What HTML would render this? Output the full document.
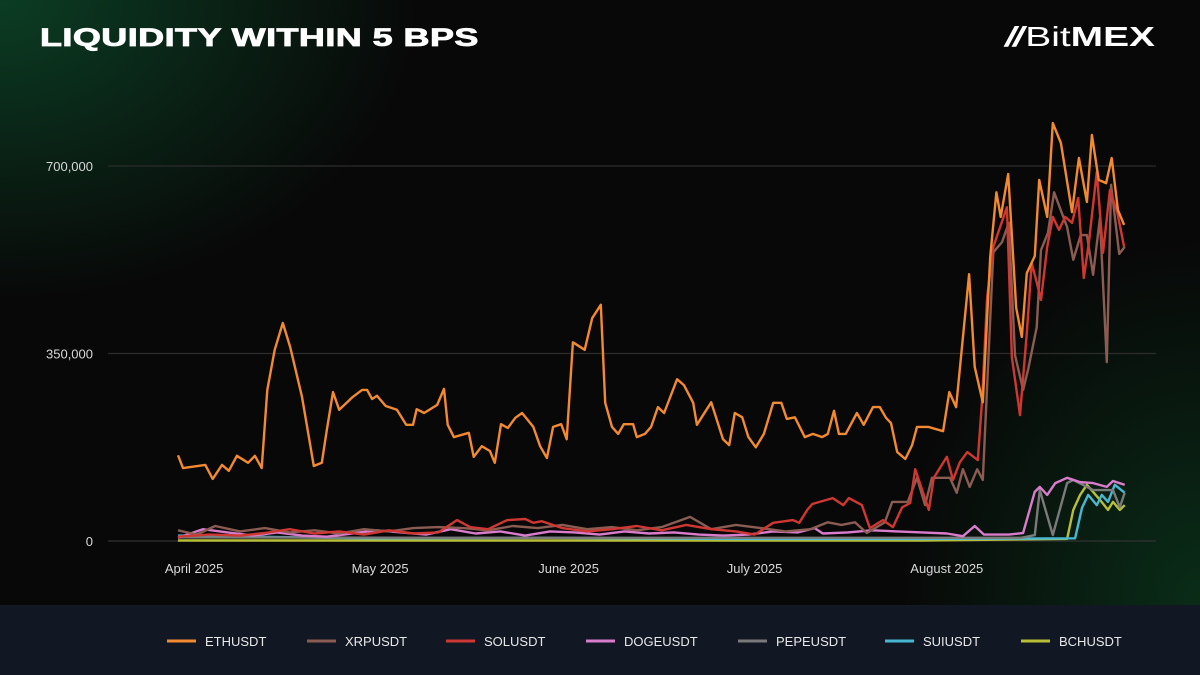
<!DOCTYPE html>
<html><head><meta charset="utf-8">
<style>
html,body{margin:0;padding:0;}
body{width:1200px;height:675px;overflow:hidden;background:#080808;font-family:"Liberation Sans",sans-serif;}
#wrap{position:relative;width:1200px;height:675px;
background:
radial-gradient(ellipse 420px 300px at 0px 0px, rgba(12,70,40,0.85), rgba(8,8,8,0) 100%),
radial-gradient(ellipse 300px 360px at 1200px 600px, rgba(10,60,30,0.7), rgba(8,8,8,0) 100%),
#080808;}
#title{position:absolute;left:40px;top:24px;color:#fff;font-weight:900;font-size:25px;letter-spacing:0.3px;transform:scaleX(1.44);transform-origin:left top;-webkit-text-stroke:0.8px #fff;white-space:nowrap;}
#logo{position:absolute;left:1005px;top:21px;color:#fff;font-size:28px;transform:scaleX(1.39);transform-origin:left top;white-space:nowrap;}
#footer{position:absolute;left:0;top:605px;width:1200px;height:70px;background:#111723;}
</style></head>
<body>
<div id="wrap">
<div id="title">LIQUIDITY WITHIN 5 BPS</div>
<div id="logo"><span style="font-weight:bold;font-style:italic;letter-spacing:-2px">//</span><span style="margin-left:3px">Bit</span><b>MEX</b></div>
<div id="footer"></div>
<svg id="chart" width="1200" height="675" style="position:absolute;left:0;top:0"></svg>
</div>
<script>
const yTicks=[0,350,700];
const yTickLabels=["0","350,000","700,000"];
const xTickDays=[2.6,32.6,63,93,124];
const xTickLabels=["April 2025","May 2025","June 2025","July 2025","August 2025"];
const seriesNames=["ETHUSDT","XRPUSDT","SOLUSDT","DOGEUSDT","PEPEUSDT","SUIUSDT","BCHUSDT"];
const seriesColors=["#f28a30","#8a5c52","#cf3832","#d97ccc","#7a7a7a","#48b8d2","#b8bf36"];
const ethDays=[0,0.8,4.4,5.6,7.1,8.2,9.5,11.3,12.4,13.5,14.4,15.6,16.9,18.1,20,21.9,23.2,24,25,26,28.2,29.7,30.5,31.3,32.1,33.5,35.3,36.8,37.9,38.5,39.7,41.8,42.9,43.5,44.5,46.9,47.7,49,50.3,51.1,52.1,53.2,54.4,55.5,57.3,58.4,59.5,60.5,61.8,62.7,63.7,65.6,66.8,68.2,68.9,70,71,71.9,73.4,74,75.3,76.3,77.4,78.4,80.5,81.6,83.1,83.7,86,87.9,88.9,89.8,91,92,93.2,94.5,96,97.3,98.2,99.5,101.1,102.4,103.9,104.8,105.8,106.6,107.7,109.5,110.6,112.1,113.2,114.2,115,116,117.3,118.4,119.2,121,123.4,124.4,125.5,127.6,128.5,129.8,131,132,132.7,133.9,135.2,136.1,136.9,138.2,138.9,140.2,141.1,142.4,144.2,145.3,146.6,147.4,148.5,149.7,150.6,151.6,152.6];
const ethVals=[160,136,142,116,142,131,159,146,159,136,282,357,407,362,269,140,146,207,278,245,269,282,282,265,271,252,245,217,217,246,239,254,284,217,194,202,157,177,168,146,218,211,230,239,213,177,155,213,218,190,371,357,416,441,258,213,200,218,218,194,200,213,250,239,302,291,258,217,259,190,179,239,231,194,175,200,258,258,228,231,194,200,194,200,243,200,200,239,217,250,250,230,220,166,153,179,213,213,205,278,250,498,325,259,530,651,605,685,435,381,500,532,674,605,780,743,614,715,633,758,674,668,715,618,590];
const xrpDays=[0,3,6,10,14,18,22,26,30,34,38,42,46,50,54,58,62,66,70,74,78,82.6,86,90,94,98,102,104.8,107,109.2,111.1,114,115.2,117.7,119.2,120.5,121.6,124.5,125.6,126.6,127.7,128.9,129.8,131.5,132.9,134,135,136.3,137.1,138.5,139.2,140.3,141.3,143.4,144.4,145.6,146.6,147.6,148.7,149.8,150.5,151.8,152.7];
const xrpVals=[20,12,28,18,24,16,20,14,22,18,24,26,24,20,28,24,30,22,26,20,26,45,22,30,24,18,22,35,30,35,15,35,73,73,118,67,118,118,90,134,101,134,114,539,558,594,347,282,319,399,543,575,651,586,525,571,571,497,603,334,665,536,549];
const solDays=[0,5,10,14,18,22,26,30,34,38,42,45,47.1,50,53.1,56,57.3,58.7,62,66,70,74,78,82,86,90,93,96,99.2,100.2,101.5,102.3,105.6,107.3,108.2,110.3,111.6,113.7,115.3,116.8,118.1,118.9,121.1,121.9,124,125,126.1,127.3,129,129.7,130.5,131.5,133.7,134.5,135.8,136.9,137.7,138.5,139.2,140.2,141.1,142.1,143.1,144.2,145.2,146.1,146.9,148.2,149.2,150.3,151.5,152.6];
const solVals=[8,12,10,15,22,14,18,12,20,14,16,39,26,22,39,41,34,37,24,18,22,28,20,30,22,18,12,34,39,34,58,69,80,67,80,67,24,39,26,63,71,134,58,118,157,114,147,166,151,263,455,549,623,343,235,388,519,483,450,549,605,581,605,594,640,491,556,689,538,655,614,549];
const dogeDays=[0,4,8,12,16,20,24,28,32,36,40,44,48,52,56,60,64,68,72,76,80,84,88,92,96,100,102.7,104,108,112,116,120,124,126.6,128.5,130,134,136.3,138.2,139,140.2,141.5,143.4,145.5,147.6,149.8,150.8,152.7];
const dogeVals=[6,22,16,10,16,10,8,14,20,16,12,22,14,18,10,18,16,12,18,14,16,12,10,12,18,16,24,14,16,20,18,16,14,9,28,12,12,15,92,101,86,108,118,110,108,101,112,105];
const pepeDays=[0,40,80,120,136,138.2,139,141.1,143.4,144.4,147.6,150.8,151.9,152.7];
const pepeVals=[7,6,6,6,6,11,95,11,108,114,95,95,63,90];
const suiDays=[0,30,60,90,120,144.7,145.8,146.8,148.2,149,150,151.1,152.7];
const suiVals=[10,5,6,4,4,5,62,86,67,86,73,105,90];
const bchDays=[0,40,80,120,143.4,144.4,145.5,146.6,148.7,150,150.8,151.9,152.7];
const bchVals=[1,1,1,1,4,58,86,105,77,58,73,58,67];

const NS="http://www.w3.org/2000/svg";
const svg=document.getElementById('chart');
function xS(d){return 178+6.2*d;}
function yS(v){return 541-v*187.5/350;}
function mk(t,attrs){const e=document.createElementNS(NS,t);for(const k in attrs)e.setAttribute(k,attrs[k]);svg.appendChild(e);return e;}

yTicks.forEach((t,i)=>{
  const g=mk('line',{x1:108,x2:1156,y1:yS(t),y2:yS(t),stroke:t===0?'#333':'#2c2c2c','stroke-width':1.3});
  
  
  const l=mk('text',{x:93,y:yS(t)+5,fill:'#d8d8d8','font-size':13,'text-anchor':'end','font-family':'Liberation Sans, sans-serif'});
  l.textContent=yTickLabels[i];
  
  
});
xTickDays.forEach((d,i)=>{
  const l=mk('text',{x:xS(d),y:573,fill:'#d8d8d8','font-size':13,'text-anchor':'middle','font-family':'Liberation Sans, sans-serif'});
  l.textContent=xTickLabels[i];
  
  
});
const all=[[ethDays,ethVals],[xrpDays,xrpVals],[solDays,solVals],[dogeDays,dogeVals],[pepeDays,pepeVals],[suiDays,suiVals],[bchDays,bchVals]];
const order=[6,5,4,3,1,2,0];
order.forEach(i=>{
  const [ds,vs]=all[i];
  const pts=ds.map((d,j)=>xS(d).toFixed(1)+','+yS(vs[j]).toFixed(1)).join(' ');
  const p=mk('polyline',{points:pts,fill:'none',stroke:seriesColors[i],'stroke-width':2.4,'stroke-linejoin':'round'});
  
  
});
const legX=[167,307,446,586,738,885,1021];
seriesNames.forEach((n,i)=>{
  const ln=mk('line',{x1:legX[i],x2:legX[i]+29,y1:641,y2:641,stroke:seriesColors[i],'stroke-width':3});
  
  
  const t=mk('text',{x:legX[i]+38,y:646,fill:'#e8e8e8','font-size':13,'font-family':'Liberation Sans, sans-serif'});
  t.textContent=n;
  
  
});
</script>
</body></html>
